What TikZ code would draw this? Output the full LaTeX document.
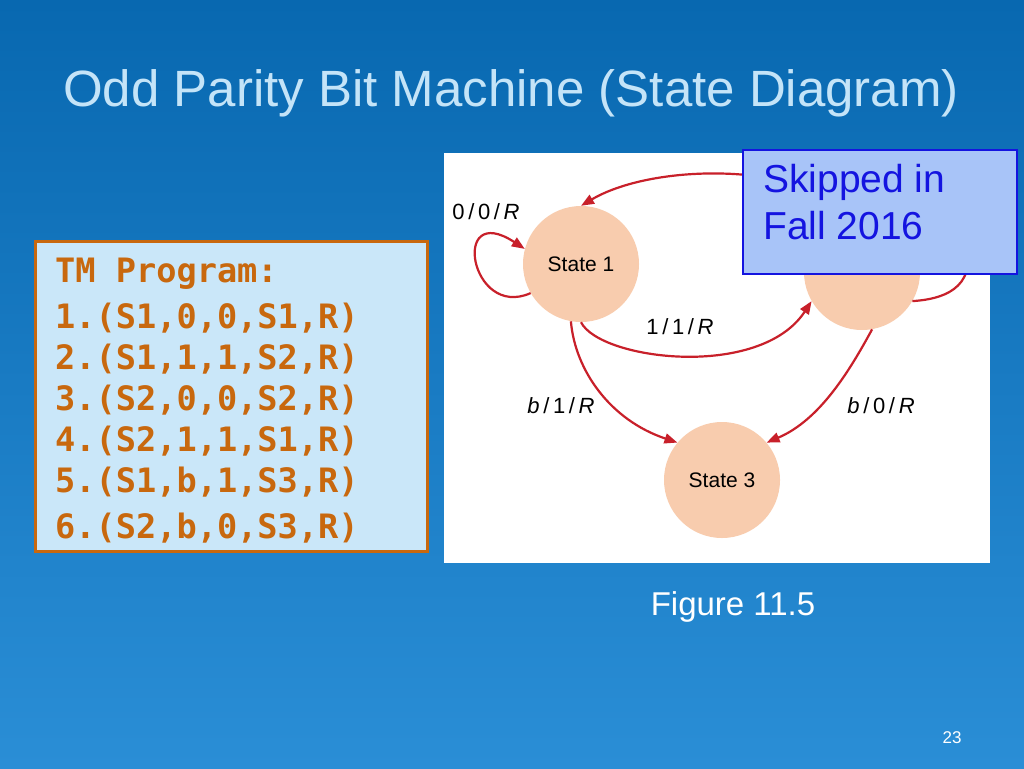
\documentclass[tikz,border=0pt]{standalone}
\usepackage{fontspec}
\setmainfont{Liberation Sans}
\newfontfamily\monob{DejaVu Sans Mono}
\usetikzlibrary{arrows.meta}
\definecolor{bgtop}{HTML}{0868B0}
\definecolor{bgbot}{HTML}{2A8ED6}
\definecolor{titlec}{HTML}{C4E4F8}
\definecolor{orng}{HTML}{C8680E}
\definecolor{peach}{HTML}{F8CCAE}
\definecolor{arrc}{HTML}{C8202A}
\definecolor{skipfill}{HTML}{A8C4F8}
\definecolor{skipblue}{HTML}{1414E0}
\newcommand{\trsl}{\,/\,}
\begin{document}
\begin{tikzpicture}[x=1pt,y=-1pt,
  st/.style={circle,fill=peach,minimum size=116pt,inner sep=0pt,font=\fontsize{21}{24}\selectfont},
  ar/.style={draw=arrc,line width=2.2pt,-{Triangle[length=13pt,width=10pt]}},
  lb/.style={font=\fontsize{22}{24}\selectfont}]
\useasboundingbox (0,0) rectangle (1024,768);
\shade[top color=bgtop,bottom color=bgbot] (0,0) rectangle (1024,768);
\node[text=titlec,font=\fontsize{51}{56}\selectfont] (title) at (511,93) {Odd Parity Bit Machine (State Diagram)};
% TM program box
\node[draw=orng,line width=3pt,fill=titlec!90!white,minimum width=392pt,minimum height=310pt,anchor=north west] (prog) at (34,240) {};
\node[anchor=north west,text=orng,font=\monob\bfseries\fontsize{33.6}{41}\selectfont,align=left,inner sep=0pt] (progtxt) at (55,258)
{TM Program:\\[5pt]1.(S1,0,0,S1,R)\\2.(S1,1,1,S2,R)\\3.(S2,0,0,S2,R)\\4.(S2,1,1,S1,R)\\5.(S1,b,1,S3,R)\\[5pt]6.(S2,b,0,S3,R)};
% diagram panel
\node[fill=white,minimum width=546pt,minimum height=410pt,anchor=north west,inner sep=0pt] (panel) at (444,153) {};
\node[st] (s1) at (581,264) {State 1};
\node[st] (s2) at (862,272) {};
\node[st] (s3) at (722,480) {State 3};
\draw[ar] (s2.north) .. controls (790,160) and (650,165) .. (s1.north);
\draw[ar] (s1.south) .. controls (600,360) and (760,380) .. (s2.210);
\draw[ar] (s1.260) .. controls (575,370) and (610,420) .. (s3.140);
\draw[ar] (s2.280) .. controls (850,370) and (820,420) .. (s3.40);
\draw[ar] (s1.210) .. controls (470,320) and (450,200) .. (s1.165);
\draw[ar,-] (s2.330) .. controls (930,300) and (975,295) .. (967,250);
\node[lb] (l1) at (486,212) {0\trsl0\trsl\textit{R}};
\node[lb] (l2) at (680,327) {1\trsl1\trsl\textit{R}};
\node[lb] (l3) at (561,406) {\textit{b}\trsl1\trsl\textit{R}};
\node[lb] (l4) at (881,406) {\textit{b}\trsl0\trsl\textit{R}};
% skipped box
\node[draw=skipblue,line width=2pt,fill=skipfill,minimum width=274pt,minimum height=124pt,anchor=north west] (skip) at (742,149) {};
\node[anchor=north west,text=skipblue,font=\fontsize{39}{47}\selectfont,align=left,inner sep=0pt] (skiptxt) at (763,164) {Skipped in\\Fall 2016};
\node[text=white,font=\fontsize{33}{36}\selectfont] (fig) at (733,607) {Figure 11.5};
\node[text=white,font=\fontsize{17}{18}\selectfont] (pg) at (952,738) {23};
\end{tikzpicture}
\end{document}
